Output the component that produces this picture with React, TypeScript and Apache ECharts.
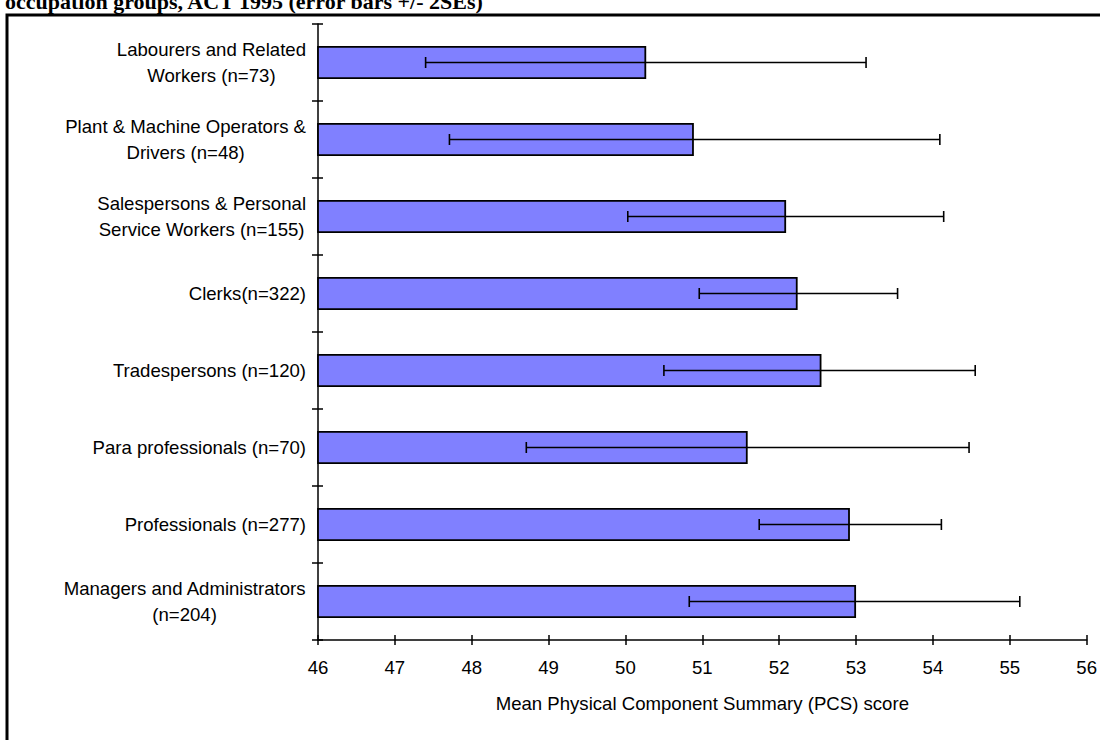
import React, { useEffect, useRef } from "react";
import * as echarts from "echarts";

const categories = [
  "Labourers and Related\nWorkers (n=73)",
  "Plant & Machine Operators &\nDrivers (n=48)",
  "Salespersons & Personal\nService Workers (n=155)",
  "Clerks(n=322)",
  "Tradespersons (n=120)",
  "Para professionals (n=70)",
  "Professionals (n=277)",
  "Managers and Administrators\n(n=204)",
];
const means = [50.27, 50.89, 52.09, 52.24, 52.55, 51.59, 52.92, 53.0];
const lowerBounds = [47.4, 47.71, 50.03, 50.96, 50.5, 48.71, 51.74, 50.83];
const upperBounds = [53.13, 54.09, 54.14, 53.54, 54.55, 54.47, 54.11, 55.13];
const xMin = 46;
const xMax = 56;
const xStep = 1;
const titleText = "occupation groups, ACT 1995 (error bars +/- 2SEs)";
const xAxisTitle = "Mean Physical Component Summary (PCS) score";

export default function App() {
  const ref = useRef<HTMLDivElement>(null);
  useEffect(() => {
    if (!ref.current) return;
    const chart = echarts.init(ref.current, null, { renderer: "svg" });
    const font = "'Liberation Sans', Arial, sans-serif";
    const fs = 18.6;
    const axisLineStyle = { color: "#000", width: 1.5 };
    const errData = categories.map((_, i) => [i, lowerBounds[i], upperBounds[i]]);
    chart.setOption({
      animation: false,
      backgroundColor: "#ffffff",
      textStyle: { fontFamily: font },
      grid: { left: 318, right: 12, top: 24, bottom: 100, containLabel: false },
      xAxis: [
        {
          type: "value",
          min: xMin,
          max: xMax,
          interval: xStep,
          position: "bottom",
          axisLine: { show: true, lineStyle: axisLineStyle },
          axisTick: { show: true, length: 5, lineStyle: axisLineStyle },
          axisLabel: { color: "#000", fontSize: fs, fontFamily: font, margin: 18 },
          splitLine: { show: false },
          name: xAxisTitle,
          nameLocation: "middle",
          nameGap: 54,
          nameTextStyle: { color: "#000", fontSize: fs, fontFamily: font },
        },
        {
          type: "value",
          min: xMin,
          max: xMax,
          interval: xStep,
          position: "bottom",
          axisLine: { show: false },
          axisTick: { show: true, inside: true, length: 5, lineStyle: axisLineStyle },
          axisLabel: { show: false },
          splitLine: { show: false },
        },
      ],
      yAxis: [
        {
          type: "category",
          data: categories,
          inverse: true,
          position: "left",
          axisLine: { show: true, lineStyle: axisLineStyle },
          axisTick: { show: true, length: 6, lineStyle: axisLineStyle },
          axisLabel: {
            align: "right",
            margin: 12,
            formatter: (v: string) =>
              v
                .split("\n")
                .map((l) => "{c|" + l + "}")
                .join("\n"),
            rich: {
              c: {
                align: "center",
                fontSize: fs,
                lineHeight: 26,
                fontFamily: font,
                color: "#000",
              },
            },
          },
          splitLine: { show: false },
        },
        {
          type: "category",
          data: categories,
          inverse: true,
          position: "left",
          axisLine: { show: false },
          axisTick: { show: true, inside: true, length: 5, lineStyle: axisLineStyle },
          axisLabel: { show: false },
          splitLine: { show: false },
        },
      ],
      series: [
        {
          type: "bar",
          xAxisIndex: 0,
          yAxisIndex: 0,
          data: means,
          barWidth: 33,
          itemStyle: { color: "#8080ff", borderColor: "#000", borderWidth: 1.8 },
          z: 2,
        },
        {
          type: "custom",
          xAxisIndex: 0,
          yAxisIndex: 0,
          data: errData,
          encode: { x: [1, 2], y: 0 },
          z: 3,
          renderItem: (params: any, api: any) => {
            const cat = api.value(0);
            const lo = api.coord([api.value(1), cat]);
            const hi = api.coord([api.value(2), cat]);
            const cap = 5.5;
            const style = { stroke: "#000", lineWidth: 1.6 };
            return {
              type: "group",
              children: [
                { type: "line", shape: { x1: lo[0], y1: lo[1], x2: hi[0], y2: hi[1] }, style },
                { type: "line", shape: { x1: lo[0], y1: lo[1] - cap, x2: lo[0], y2: lo[1] + cap }, style },
                { type: "line", shape: { x1: hi[0], y1: hi[1] - cap, x2: hi[0], y2: hi[1] + cap }, style },
              ],
            };
          },
        },
      ],
      graphic: [
        {
          type: "rect",
          silent: true,
          shape: { x: 7, y: 15, width: 1200, height: 800 },
          style: { fill: "none", stroke: "#000", lineWidth: 3 },
        },
        {
          type: "text",
          x: 5,
          y: 1,
          silent: true,
          style: {
            text: titleText,
            font: "bold 22px 'Liberation Serif', 'Times New Roman', serif",
            fill: "#000",
            verticalAlign: "middle",
          },
        },
      ],
    });
    return () => chart.dispose();
  }, []);
  return (
    <div
      ref={ref}
      style={{ position: "absolute", left: 0, top: 0, width: 1100, height: 740 }}
    />
  );
}
